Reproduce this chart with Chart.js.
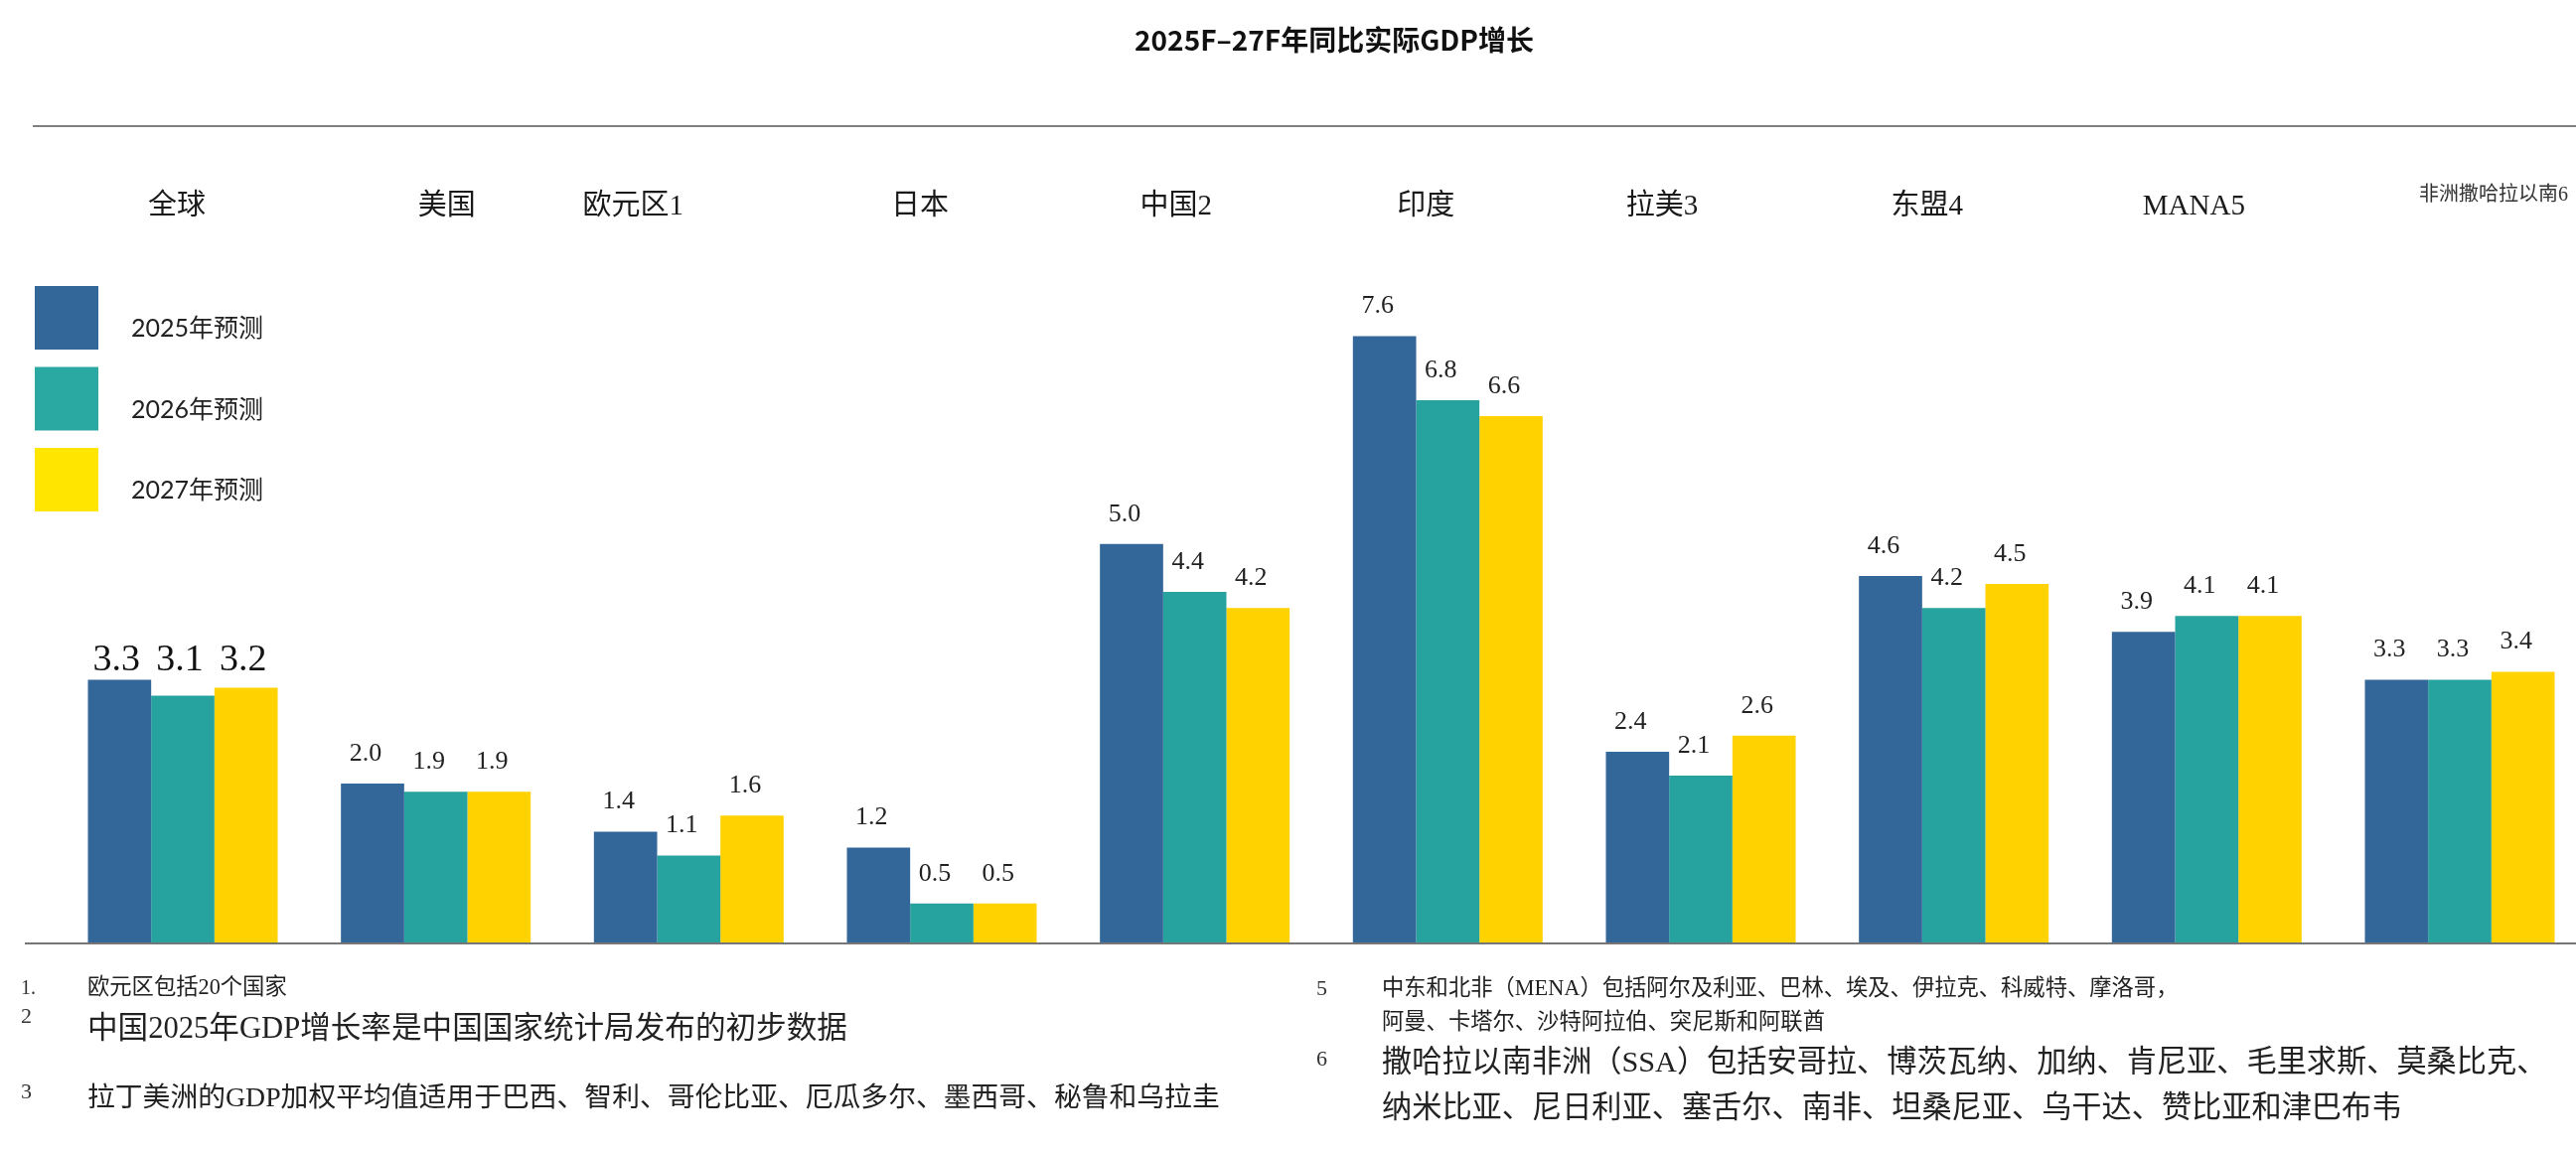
<!DOCTYPE html>
<html>
<head>
<meta charset="utf-8">
<script src="https://cdn.jsdelivr.net/npm/chart.js@4.4.1/dist/chart.umd.min.js"></script>
<style>
  html, body { margin: 0; padding: 0; background: #fff; }
  canvas { display: block; }
</style>
</head>
<body>
<canvas id="gdpChart" width="2593" height="1158"></canvas>
<script>
const chartTitle = '2025F–27F年同比实际GDP增长';
const regions = ['全球', '美国', '欧元区1', '日本', '中国2', '印度', '拉美3', '东盟4', 'MANA5', '非洲撒哈拉以南6'];
const seriesNames = ['2025年预测', '2026年预测', '2027年预测'];
const growth2025 = [3.3, 2.0, 1.4, 1.2, 5.0, 7.6, 2.4, 4.6, 3.9, 3.3];
const growth2026 = [3.1, 1.9, 1.1, 0.5, 4.4, 6.8, 2.1, 4.2, 4.1, 3.3];
const growth2027 = [3.2, 1.9, 1.6, 0.5, 4.2, 6.6, 2.6, 4.5, 4.1, 3.4];
const seriesValues = [growth2025, growth2026, growth2027];

const footnotesLeft = [
  { num: '1.', lines: ['欧元区包括20个国家'] },
  { num: '2', lines: ['中国2025年GDP增长率是中国国家统计局发布的初步数据'] },
  { num: '3', lines: ['拉丁美洲的GDP加权平均值适用于巴西、智利、哥伦比亚、厄瓜多尔、墨西哥、秘鲁和乌拉圭'] }
];
const footnotesRight = [
  { num: '5', lines: ['中东和北非（MENA）包括阿尔及利亚、巴林、埃及、伊拉克、科威特、摩洛哥，', '阿曼、卡塔尔、沙特阿拉伯、突尼斯和阿联酋'] },
  { num: '6', lines: ['撒哈拉以南非洲（SSA）包括安哥拉、博茨瓦纳、加纳、肯尼亚、毛里求斯、莫桑比克、', '纳米比亚、尼日利亚、塞舌尔、南非、坦桑尼亚、乌干达、赞比亚和津巴布韦'] }
];

const barColors = ['#336699', '#26A39F', '#FFD200'];
const legendColors = ['#336699', '#2AA8A2', '#FFE500'];

const CJK = '"Noto Sans CJK SC"';
const MIXED = '"Liberation Serif", "Noto Sans CJK SC"';

// header label nudges relative to the group centre (the source layout is not centred)
const headerShift = [-6, 11, -56, -22, -19, -22, -39, -27, -13, 0];

function txt(ctx, s, x, y, font, align = 'left', color = '#222') {
  ctx.font = font;
  ctx.fillStyle = color;
  ctx.textAlign = align;
  ctx.textBaseline = 'middle';
  ctx.fillText(s, x, y);
}

const decor = {
  id: 'decor',
  afterDatasetsDraw(chart) {
    const { ctx } = chart;
    const xs = chart.scales.x;
    const W = chart.width;
    ctx.save();

    // title + rule
    txt(ctx, chartTitle, 1343, 40, `bold 28px ${CJK}`, 'center', '#111');
    ctx.strokeStyle = '#7f7f7f';
    ctx.lineWidth = 2;
    ctx.beginPath(); ctx.moveTo(33, 127); ctx.lineTo(W, 127); ctx.stroke();

    // region headers
    regions.forEach((r, i) => {
      if (i === regions.length - 1) {
        txt(ctx, r, 2585, 197, `20px ${MIXED}`, 'right', '#333');
      } else {
        txt(ctx, r, xs.getPixelForValue(i) + headerShift[i], 208, `29px ${MIXED}`, 'center', '#1a1a1a');
      }
    });

    // legend
    seriesNames.forEach((s, d) => {
      const top = 288 + d * 81.5;
      ctx.fillStyle = legendColors[d];
      ctx.fillRect(35, top, 64, 64);
      txt(ctx, s, 132, top + 43, `25px "Lato", ${CJK}`, 'left', '#222');
    });

    // value labels
    const metas = seriesValues.map((_, d) => chart.getDatasetMeta(d));
    regions.forEach((_, i) => {
      if (i === 0) {
        const top = Math.min(...metas.map(m => m.data[i].y));
        metas.forEach((m, d) => txt(ctx, seriesValues[d][i].toFixed(1), m.data[i].x - 3, top - 20, '38px "Liberation Serif"', 'center', '#111'));
      } else {
        metas.forEach((m, d) => txt(ctx, seriesValues[d][i].toFixed(1), m.data[i].x - 7, m.data[i].y - 30, '26px "Liberation Serif"', 'center', '#222'));
      }
    });

    // baseline
    const base = chart.scales.y.getPixelForValue(0);
    ctx.strokeStyle = '#767676';
    ctx.lineWidth = 2;
    ctx.beginPath(); ctx.moveTo(25, base); ctx.lineTo(W, base); ctx.stroke();

    // footnotes
    const leftLayout = [
      { ny: 996, ty: [995], nf: 20, tf: 22.3 },
      { ny: 1024, ty: [1037], nf: 22, tf: 30.6 },
      { ny: 1100, ty: [1107], nf: 22, tf: 27.8 }
    ];
    footnotesLeft.forEach((fn, k) => {
      const L = leftLayout[k];
      txt(ctx, fn.num, 21, L.ny, `${L.nf}px "Liberation Serif"`, 'left', '#333');
      fn.lines.forEach((line, j) => txt(ctx, line, 88, L.ty[j], `${L.tf}px ${MIXED}`, 'left', '#222'));
    });
    const rightLayout = [
      { ny: 996, ty: [996, 1030], nf: 22, tf: 22.3 },
      { ny: 1067, ty: [1071, 1117], nf: 22, tf: 30.2 }
    ];
    footnotesRight.forEach((fn, k) => {
      const L = rightLayout[k];
      txt(ctx, fn.num, 1325, L.ny, `${L.nf}px "Liberation Serif"`, 'left', '#333');
      fn.lines.forEach((line, j) => txt(ctx, line, 1391, L.ty[j], `${L.tf}px ${MIXED}`, 'left', '#222'));
    });

    ctx.restore();
  }
};

new Chart(document.getElementById('gdpChart'), {
  type: 'bar',
  data: {
    labels: regions,
    datasets: seriesNames.map((name, d) => ({
      label: name,
      data: seriesValues[d],
      backgroundColor: barColors[d],
      borderWidth: 0,
      clip: false,
      categoryPercentage: 0.75,
      barPercentage: 1.0
    }))
  },
  options: {
    responsive: false,
    animation: false,
    layout: { padding: { left: 184, right: 117, top: 226, bottom: 208 } },
    scales: {
      x: { display: false, offset: false },
      y: { display: false, min: 0, max: 9 }
    },
    plugins: {
      legend: { display: false },
      title: { display: false },
      tooltip: { enabled: false }
    }
  },
  plugins: [decor]
});
</script>
</body>
</html>
